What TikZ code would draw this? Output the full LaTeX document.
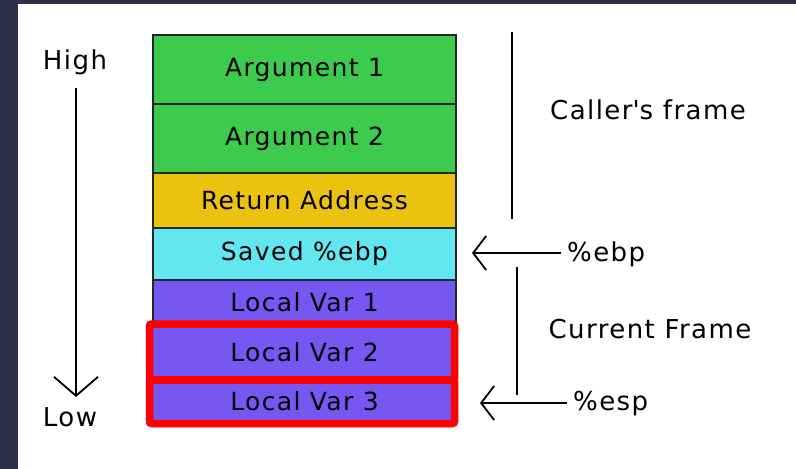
\documentclass[tikz,border=0pt]{standalone}
\usepackage{fontspec}
\setmainfont[LetterSpace=5.5]{DejaVu Sans}
\usetikzlibrary{arrows.meta}
\definecolor{frameDark}{HTML}{2E3047}
\definecolor{argGreen}{HTML}{3DCB4D}
\definecolor{retYellow}{HTML}{EBC20F}
\definecolor{ebpCyan}{HTML}{62E6F0}
\definecolor{varPurple}{HTML}{7558F2}
\definecolor{lineGreen}{HTML}{1FA83A}
\begin{document}
\begin{tikzpicture}[x=1pt,y=-1pt,
  slot/.style={draw=black!85,line width=1.8pt,minimum width=303pt,inner sep=0pt,
    font=\fontsize{25}{30}\selectfont,text=black},
  lbl/.style={font=\fontsize{26}{30}\selectfont,inner sep=0pt,text=black},
  barb/.style={line width=1.8pt,-{Straight Barb[length=13pt,width=34pt,line width=1.8pt]}},
  bigbarb/.style={line width=1.8pt,-{Straight Barb[length=19pt,width=44pt,line width=1.8pt]}},
  bracket/.style={line width=2pt},
  hilite/.style={draw=red,line width=7.5pt,rounded corners=2pt}]
\useasboundingbox (0,0) rectangle (796,469);
\fill[frameDark] (0,0) rectangle (796,469);
\fill[white] (18,4) rectangle (796,469);

% stack slots
\node[slot,fill=argGreen,minimum height=69pt] (arg1) at (304.5,69.5) {Argument 1};
\node[slot,fill=argGreen,minimum height=69pt] (arg2) at (304.5,138.5) {Argument 2};
\node[slot,fill=retYellow,minimum height=55pt] (ret) at (304.5,200.5) {Return Address};
\node[slot,fill=ebpCyan,minimum height=52pt] (sebp) at (304.5,254) {Saved \%ebp};
\node[slot,fill=varPurple,minimum height=44pt] (lv1) at (304.5,302) {Local Var 1};
\node[slot,fill=varPurple,draw=none,minimum height=56pt] (lv2) at (304.5,352) {Local Var 2};
\node[slot,fill=varPurple,draw=none,minimum height=43pt] (lv3) at (304.5,401.5) {Local Var 3};
\draw[lineGreen,line width=1.5pt] (lv2.south west) ++(0,-4) -- ([yshift=4pt]lv2.south east);

% red highlight frames
\draw[hilite] (149.5,324) rectangle (454.5,380);
\draw[hilite] (149.5,380) rectangle (454.5,423.5);

% High / Low axis
\node[lbl] (high) at (75,62) {High};
\node[lbl] (low) at (70,417) {Low};
\coordinate (axtop) at (76,88);
\coordinate (axbot) at (76,397);
\draw[bigbarb] (axtop) -- (axbot);

% caller's frame bracket
\coordinate (cft) at (512,32);
\coordinate (cfb) at (512,219);
\draw[bracket] (cft) -- (cfb);
\node[lbl] (caller) at (648,110) {Caller\textquotesingle s frame};

% %ebp pointer
\node[lbl,anchor=west] (ebp) at (567,254) {\%ebp};
\coordinate (ebptip) at (472,253);
\draw[barb] (ebp.west) ++(-6,-1) -- (ebptip);

% current frame bracket
\coordinate (crt) at (517,267);
\coordinate (crb) at (517,395);
\draw[bracket] (crt) -- (crb);
\node[lbl] (current) at (650,329) {Current Frame};

% %esp pointer
\node[lbl,anchor=west] (esp) at (573,404) {\%esp};
\coordinate (esptip) at (480,403);
\draw[barb] (esp.west) ++(-6,-1) -- (esptip);
\end{tikzpicture}
\end{document}
